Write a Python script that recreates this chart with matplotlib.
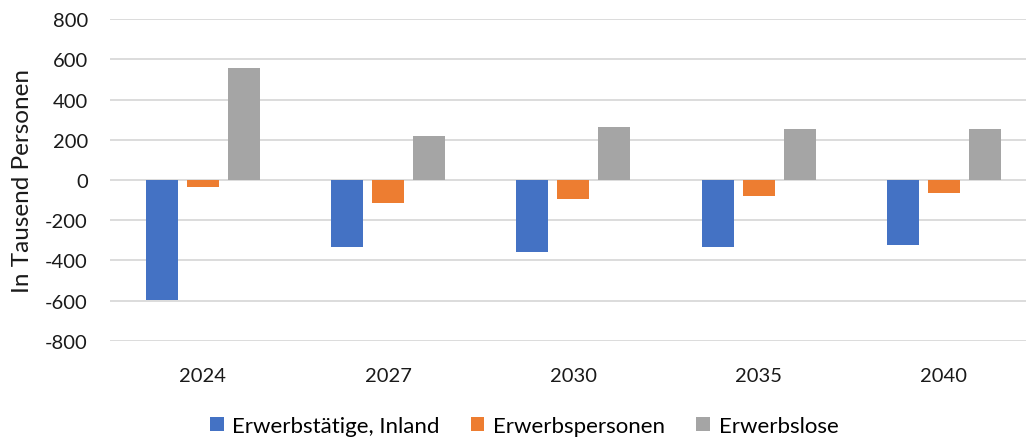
import numpy as np
import matplotlib
matplotlib.use("Agg")
import matplotlib.pyplot as plt

plt.rcParams['font.family'] = ['Lato', 'DejaVu Sans']
plt.rcParams['axes.unicode_minus'] = False

# data (thousand persons)
years = ['2024', '2027', '2030', '2035', '2040']
erwerbstaetige = [-595, -333, -356, -331, -323]
erwerbspersonen = [-36, -116, -94, -78, -66]
erwerbslose = [558, 217, 262, 252, 255]

series_names = ['Erwerbstätige, Inland', 'Erwerbspersonen', 'Erwerbslose']
colors = ['#4472C4', '#ED7D31', '#A5A5A5']

fig = plt.figure(figsize=(10.26, 4.39), dpi=100)
ax = fig.add_axes([0.1072, 0.221, 0.8928, 0.7334])

x = np.arange(len(years))
width = 0.173
offset = 0.221
for i, (vals, name, c) in enumerate(zip([erwerbstaetige, erwerbspersonen, erwerbslose],
                                         series_names, colors)):
    ax.bar(x + (i - 1) * offset, vals, width, color=c, label=name, zorder=3)

ax.set_ylim(-800, 800)
ax.set_yticks(range(-800, 801, 200))
ax.set_xlim(-0.5, 4.443)
ax.set_xticks(x)
ax.set_xticklabels(years)
ax.grid(axis='y', color='#D9D9D9', linewidth=1.3, zorder=0)
for s in ax.spines.values():
    s.set_visible(False)
ax.tick_params(axis='both', length=0, labelsize=14.5, colors='#1a1a1a')
ax.tick_params(axis='y', pad=16)
ax.tick_params(axis='x', pad=19)
ax.set_ylabel('In Tausend Personen', fontsize=17.5, color='#1a1a1a')
ax.yaxis.set_label_coords(-0.084, 0.5)

fig.legend(loc='lower center', bbox_to_anchor=(0.511, -0.04), ncol=3, frameon=False,
           fontsize=16, handlelength=0.6, handleheight=0.6, columnspacing=1.4,
           handletextpad=0.4)

fig.savefig('out.png', dpi=100)
